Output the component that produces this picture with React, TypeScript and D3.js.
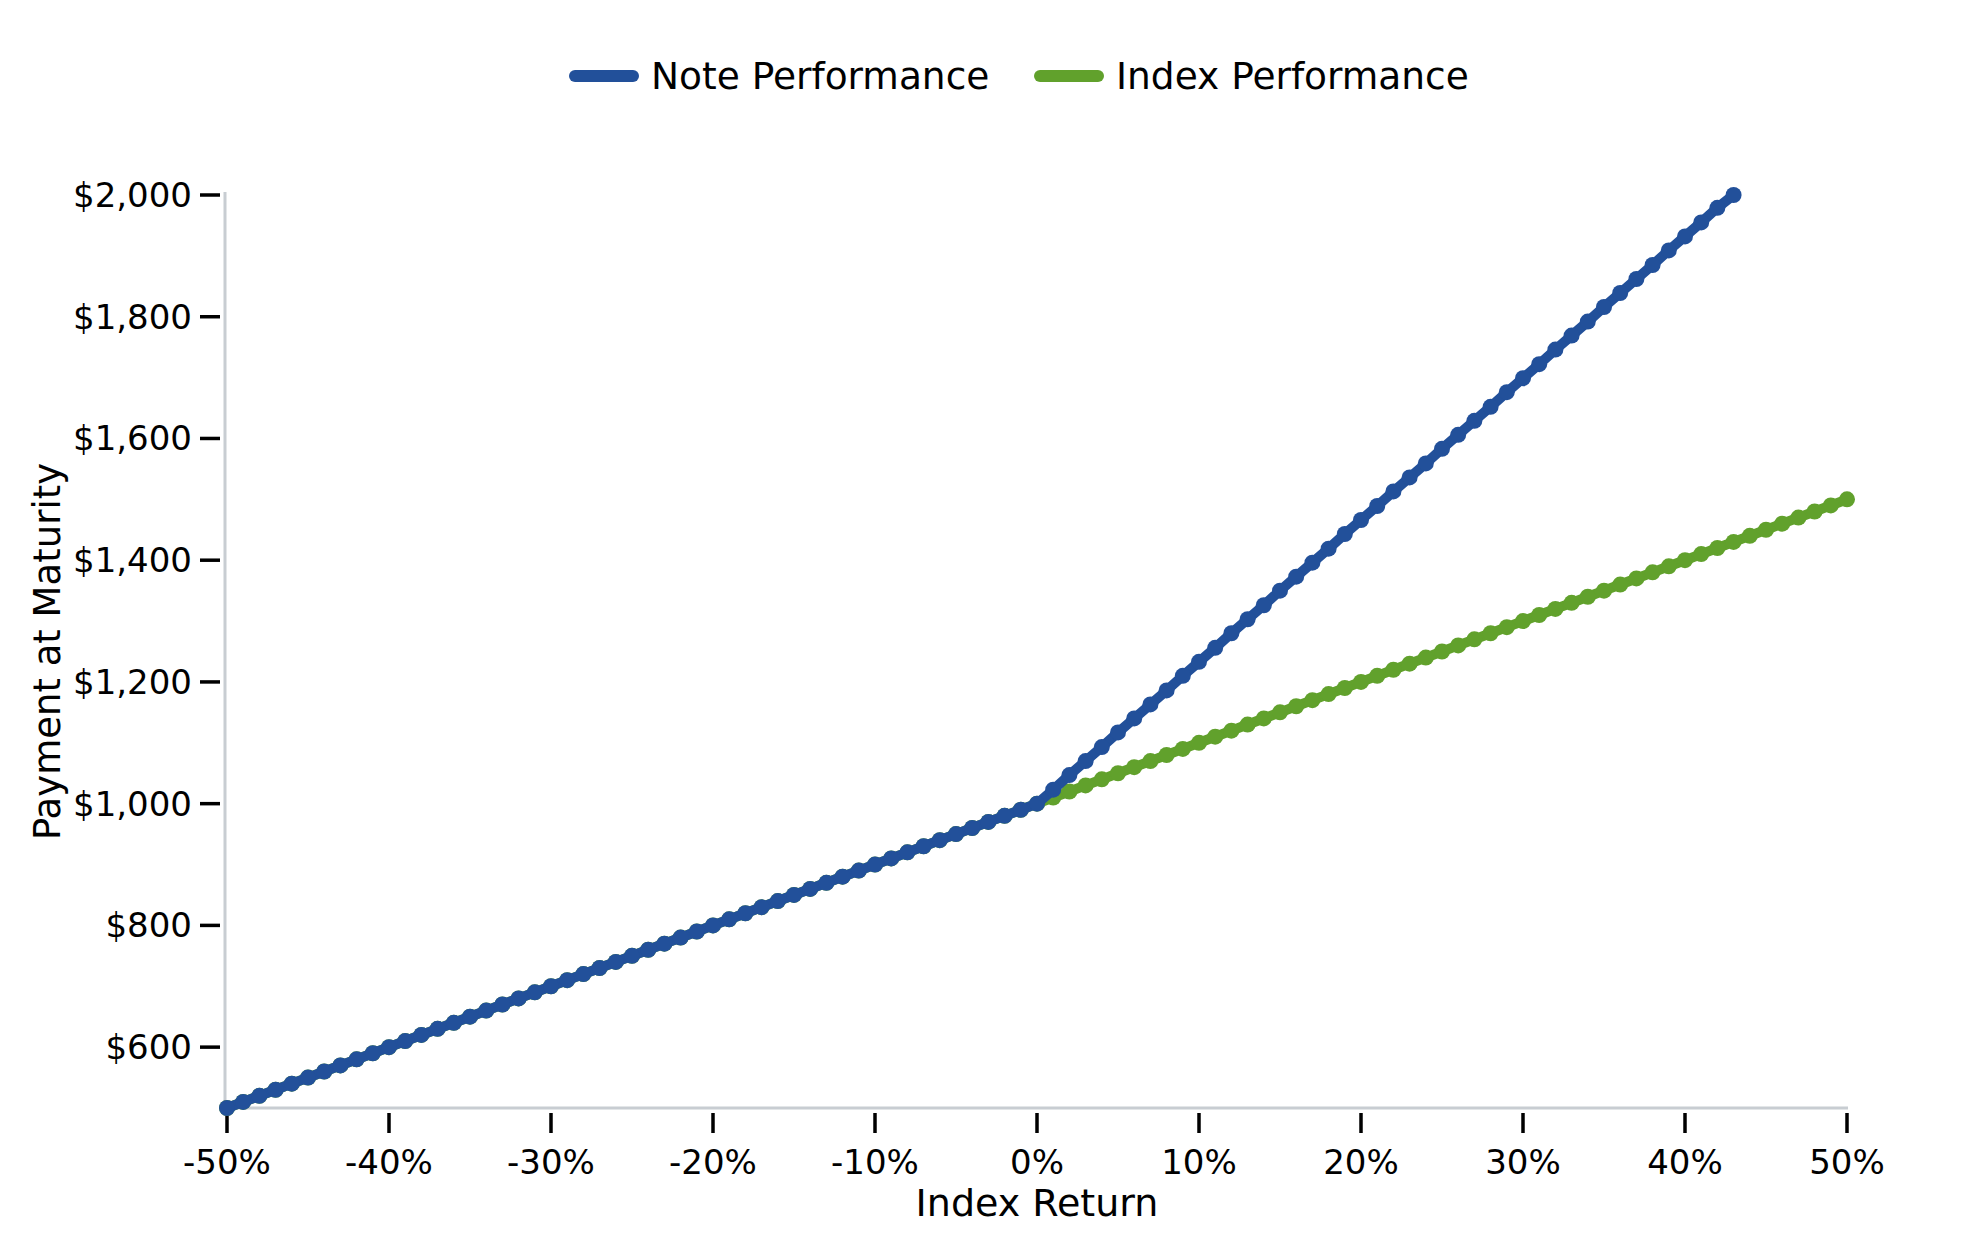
import React, { useEffect, useRef } from 'react';
import * as d3 from 'd3';

// index return in %, one point per 1%
const indexReturns: number[] = [
  -50, -49, -48, -47, -46, -45, -44, -43, -42, -41,
  -40, -39, -38, -37, -36, -35, -34, -33, -32, -31,
  -30, -29, -28, -27, -26, -25, -24, -23, -22, -21,
  -20, -19, -18, -17, -16, -15, -14, -13, -12, -11,
  -10, -9, -8, -7, -6, -5, -4, -3, -2, -1,
  0, 1, 2, 3, 4, 5, 6, 7, 8, 9,
  10, 11, 12, 13, 14, 15, 16, 17, 18, 19,
  20, 21, 22, 23, 24, 25, 26, 27, 28, 29,
  30, 31, 32, 33, 34, 35, 36, 37, 38, 39,
  40, 41, 42, 43, 44, 45, 46, 47, 48, 49, 50,
];

const indexValues: number[] = [
  500, 510, 520, 530, 540, 550, 560, 570, 580, 590,
  600, 610, 620, 630, 640, 650, 660, 670, 680, 690,
  700, 710, 720, 730, 740, 750, 760, 770, 780, 790,
  800, 810, 820, 830, 840, 850, 860, 870, 880, 890,
  900, 910, 920, 930, 940, 950, 960, 970, 980, 990,
  1000, 1010, 1020, 1030, 1040, 1050, 1060, 1070, 1080, 1090,
  1100, 1110, 1120, 1130, 1140, 1150, 1160, 1170, 1180, 1190,
  1200, 1210, 1220, 1230, 1240, 1250, 1260, 1270, 1280, 1290,
  1300, 1310, 1320, 1330, 1340, 1350, 1360, 1370, 1380, 1390,
  1400, 1410, 1420, 1430, 1440, 1450, 1460, 1470, 1480, 1490, 1500,
];

// note stops where it reaches the top of the axis (43%)
const noteValues: number[] = [
  500, 510, 520, 530, 540, 550, 560, 570, 580, 590,
  600, 610, 620, 630, 640, 650, 660, 670, 680, 690,
  700, 710, 720, 730, 740, 750, 760, 770, 780, 790,
  800, 810, 820, 830, 840, 850, 860, 870, 880, 890,
  900, 910, 920, 930, 940, 950, 960, 970, 980, 990,
  1000, 1023, 1047, 1070, 1093, 1117, 1140, 1163, 1186, 1210,
  1233, 1256, 1280, 1303, 1326, 1350, 1373, 1396, 1419, 1443,
  1466, 1489, 1513, 1536, 1559, 1583, 1606, 1629, 1652, 1676,
  1699, 1722, 1746, 1769, 1792, 1816, 1839, 1862, 1885, 1909,
  1932, 1955, 1979, 2000,
];

const xTicks: number[] = [-50, -40, -30, -20, -10, 0, 10, 20, 30, 40, 50];
const yTicks: number[] = [600, 800, 1000, 1200, 1400, 1600, 1800, 2000];

const seriesNames = ['Note Performance', 'Index Performance'];
const BLUE = '#22509a';
const GREEN = '#61a12c';
const FONT = '"DejaVu Sans", Verdana, sans-serif';

const W = 1979;
const H = 1250;

export default function App() {
  const svgRef = useRef<SVGSVGElement>(null);

  useEffect(() => {
    document.body.style.margin = '0';
    if (!svgRef.current) return;

    const svg = d3.select(svgRef.current);
    svg.selectAll('*').remove();

    const margin = { top: 195, right: 132, bottom: 142, left: 227 };

    const x = d3.scaleLinear()
      .domain([-50, 50])
      .range([margin.left, W - margin.right]);

    const y = d3.scaleLinear()
      .domain([500, 2000])
      .range([H - margin.bottom, margin.top]);

    const spine = '#c8cdd2';

    // spines
    svg.append('line')
      .attr('x1', x(-50) - 2).attr('x2', x(-50) - 2)
      .attr('y1', y(2000) - 3).attr('y2', y(500))
      .attr('stroke', spine).attr('stroke-width', 3);
    svg.append('line')
      .attr('x1', x(-50) - 2).attr('x2', x(50) + 1)
      .attr('y1', y(500)).attr('y2', y(500))
      .attr('stroke', spine).attr('stroke-width', 3);

    // y ticks
    const yAxis = svg.append('g');
    yTicks.forEach((t) => {
      yAxis.append('line')
        .attr('x1', x(-50) - 27).attr('x2', x(-50) - 7)
        .attr('y1', y(t)).attr('y2', y(t))
        .attr('stroke', '#000').attr('stroke-width', 3.5);
      yAxis.append('text')
        .attr('x', x(-50) - 35)
        .attr('y', y(t))
        .attr('dy', '0.35em')
        .attr('text-anchor', 'end')
        .attr('font-family', FONT)
        .attr('font-size', 34)
        .text('$' + d3.format(',')(t));
    });

    // x ticks
    const xAxis = svg.append('g');
    xTicks.forEach((t) => {
      xAxis.append('line')
        .attr('x1', x(t)).attr('x2', x(t))
        .attr('y1', y(500) + 5).attr('y2', y(500) + 25)
        .attr('stroke', '#000').attr('stroke-width', 3.5);
      xAxis.append('text')
        .attr('x', x(t))
        .attr('y', y(500) + 66)
        .attr('text-anchor', 'middle')
        .attr('font-family', FONT)
        .attr('font-size', 34)
        .text(t + '%');
    });

    // axis titles
    svg.append('text')
      .attr('x', x(0))
      .attr('y', 1216)
      .attr('text-anchor', 'middle')
      .attr('font-family', FONT)
      .attr('font-size', 38)
      .text('Index Return');
    svg.append('text')
      .attr('transform', `translate(60, ${(y(500) + y(2000)) / 2}) rotate(-90)`)
      .attr('text-anchor', 'middle')
      .attr('font-family', FONT)
      .attr('font-size', 37)
      .text('Payment at Maturity');

    const line = d3.line<[number, number]>()
      .x((d) => x(d[0]))
      .y((d) => y(d[1]));

    const drawSeries = (vals: number[], color: string) => {
      const pts: [number, number][] = vals.map((v, i) => [indexReturns[i], v]);
      const g = svg.append('g');
      g.append('path')
        .datum(pts)
        .attr('fill', 'none')
        .attr('stroke', color)
        .attr('stroke-width', 10)
        .attr('stroke-linejoin', 'round')
        .attr('d', line);
      g.selectAll('circle')
        .data(pts)
        .enter()
        .append('circle')
        .attr('cx', (d) => x(d[0]))
        .attr('cy', (d) => y(d[1]))
        .attr('r', 8)
        .attr('fill', color);
    };

    drawSeries(indexValues, GREEN);
    drawSeries(noteValues, BLUE);

    // legend
    const legend = svg.append('g');
    const items = [
      { name: seriesNames[0], color: BLUE, x0: 575 },
      { name: seriesNames[1], color: GREEN, x0: 1040 },
    ];
    items.forEach((it) => {
      legend.append('line')
        .attr('x1', it.x0).attr('x2', it.x0 + 58)
        .attr('y1', 76).attr('y2', 76)
        .attr('stroke', it.color)
        .attr('stroke-width', 12)
        .attr('stroke-linecap', 'round');
      legend.append('text')
        .attr('x', it.x0 + 76)
        .attr('y', 76)
        .attr('dy', '0.35em')
        .attr('font-family', FONT)
        .attr('font-size', 37.5)
        .text(it.name);
    });
  }, []);

  return (
    <div style={{ width: W, height: H, background: '#fff' }}>
      <svg ref={svgRef} width={W} height={H} />
    </div>
  );
}
